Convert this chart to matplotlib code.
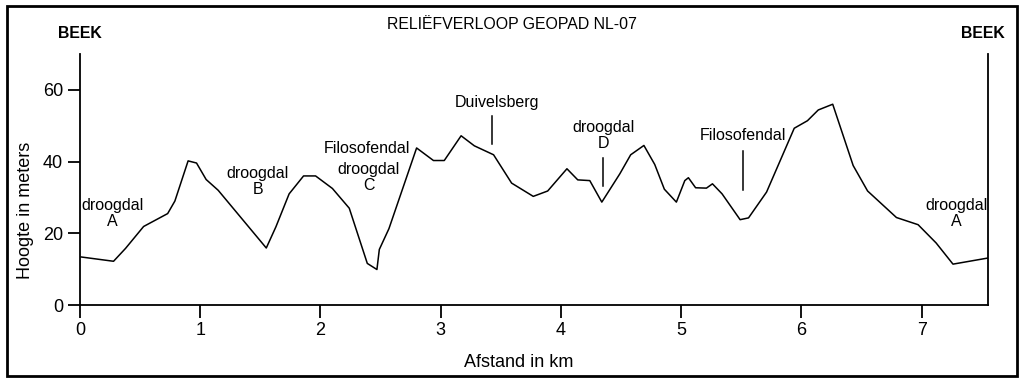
import matplotlib
matplotlib.use("Agg")
import matplotlib.pyplot as plt
from matplotlib.patches import Rectangle

plt.rcParams['font.family'] = ['Liberation Sans', 'DejaVu Sans']

# profile (km, m)
afstand = [0.01, 0.28, 0.38, 0.53, 0.73, 0.79, 0.90, 0.97, 1.05, 1.15, 1.55, 1.63, 1.74,
           1.86, 1.96, 2.10, 2.24, 2.39, 2.47, 2.49, 2.57, 2.80, 2.94, 3.03, 3.17, 3.28,
           3.44, 3.59, 3.77, 3.89, 4.05, 4.14, 4.24, 4.34, 4.49, 4.58, 4.69, 4.78, 4.86,
           4.96, 5.03, 5.06, 5.12, 5.21, 5.26, 5.34, 5.49, 5.56, 5.71, 5.94, 6.05, 6.14,
           6.26, 6.43, 6.55, 6.79, 6.97, 7.12, 7.26, 7.55]
hoogte = [13.4, 12.2, 15.8, 21.9, 25.5, 29.0, 40.2, 39.6, 35.0, 32.0, 15.9, 21.8, 31.0,
          36.0, 36.0, 32.5, 27.0, 11.6, 9.9, 15.5, 21.3, 43.8, 40.3, 40.3, 47.2, 44.4,
          41.9, 34.0, 30.3, 31.8, 38.0, 34.9, 34.7, 28.7, 36.6, 41.9, 44.5, 39.2, 32.3,
          28.7, 34.7, 35.5, 32.7, 32.6, 33.8, 31.0, 23.8, 24.3, 31.5, 49.3, 51.4, 54.4,
          56.0, 38.9, 31.8, 24.4, 22.4, 17.3, 11.4, 13.1]

# labels: (text, x, y)
labels = [
    ("droogdal\nA", 0.27, 25.5),
    ("droogdal\nB", 1.48, 34.5),
    ("Filosofendal", 2.39, 43.6),
    ("droogdal\nC", 2.40, 35.5),
    ("Duivelsberg", 3.47, 56.5),
    ("droogdal\nD", 4.35, 47.2),
    ("Filosofendal", 5.51, 47.3),
    ("droogdal\nA", 7.29, 25.5),
]
# pointer lines: (x, y_top, y_bottom)
pointers = [(3.43, 52.8, 45.0), (4.35, 41.0, 33.3), (5.51, 43.0, 32.2)]

fig = plt.figure(figsize=(10.24, 3.84), dpi=100)
ax = fig.add_axes([0.078, 0.2057, 0.8867, 0.6536])

ax.plot(afstand, hoogte, color='black', linewidth=1.1)

for txt, x, y in labels:
    ax.text(x, y, txt, ha='center', va='center', fontsize=11.5, linespacing=1.05)
for x, y0, y1 in pointers:
    ax.plot([x, x], [y0, y1], color='black', linewidth=1.1)

ax.set_xlim(0, 7.55)
ax.set_ylim(0, 70)
ax.set_xticks(range(0, 8))
ax.set_yticks([0, 20, 40, 60])
ax.tick_params(direction='out', length=9, width=1.3, labelsize=13, pad=3)
ax.spines['top'].set_visible(False)
for s in ['left', 'bottom', 'right']:
    ax.spines[s].set_linewidth(1.3)

ax.set_xlabel("Afstand in km", fontsize=13)
ax.set_ylabel("Hoogte in meters", fontsize=13)
ax.xaxis.set_label_coords(0.483, -0.195)
ax.yaxis.set_label_coords(-0.050, 0.378)

fig.text(0.5, 0.935, "RELIËFVERLOOP GEOPAD NL-07", ha='center', va='center', fontsize=11.4)
fig.text(0.078, 0.912, "BEEK", ha='center', va='center', fontsize=11.4, fontweight='bold')
fig.text(0.960, 0.912, "BEEK", ha='center', va='center', fontsize=11.4, fontweight='bold')

fig.add_artist(Rectangle((0.007, 0.021), 0.986, 0.963, transform=fig.transFigure,
                         fill=False, edgecolor='black', linewidth=2))

fig.savefig("out.png", dpi=100)
